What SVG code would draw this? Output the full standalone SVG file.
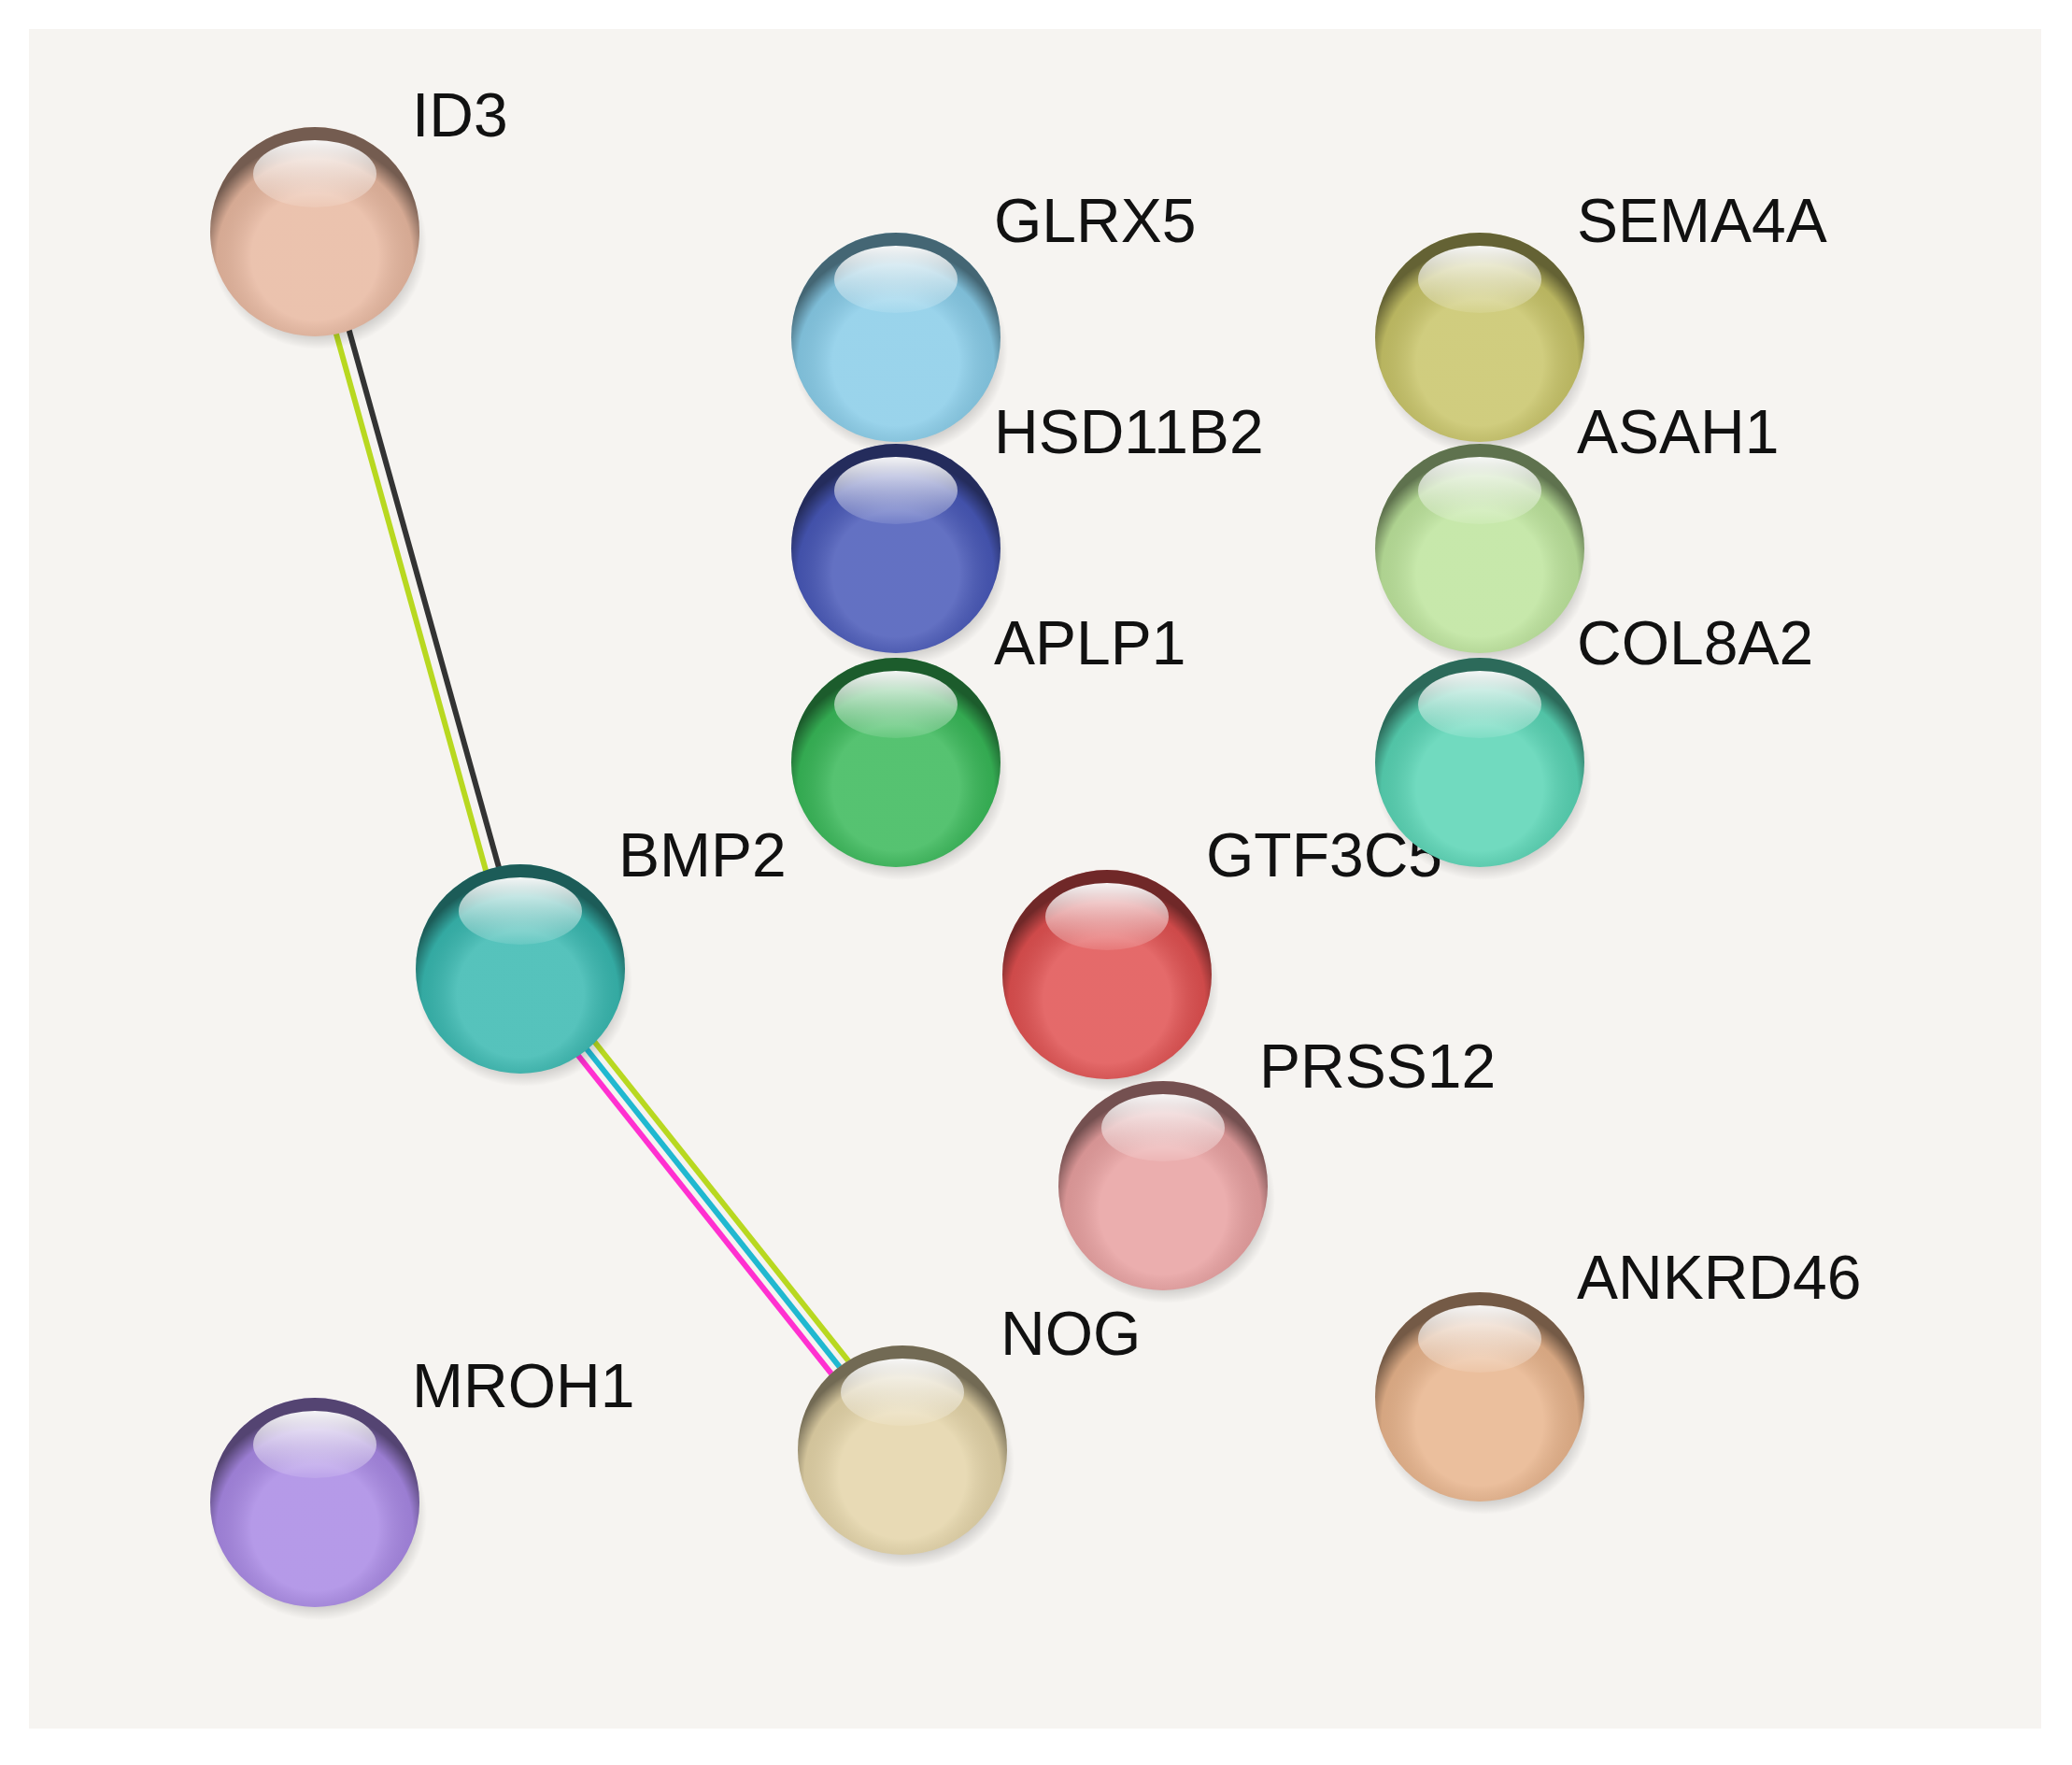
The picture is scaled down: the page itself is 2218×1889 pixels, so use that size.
<svg xmlns="http://www.w3.org/2000/svg" width="2218" height="1889" viewBox="0 0 2218 1889">
<style>
text{font-family:"Liberation Sans",Arial,sans-serif;font-size:66px;fill:#111}
.shade{fill:url(#sh)}
.hl{fill:url(#hl)}
.shadow{fill:url(#sd)}
</style>
<defs>
<radialGradient id="sh" cx="0.5" cy="0.62" r="0.55">
<stop offset="0.55" stop-color="#fff" stop-opacity="0.15"/>
<stop offset="0.85" stop-color="#000" stop-opacity="0.08"/>
<stop offset="1" stop-color="#000" stop-opacity="0.5"/>
</radialGradient>
<linearGradient id="hl" x1="0" y1="0" x2="0" y2="1">
<stop offset="0" stop-color="#fff" stop-opacity="0.95"/>
<stop offset="1" stop-color="#fff" stop-opacity="0.1"/>
</linearGradient>
<radialGradient id="sd" cx="0.5" cy="0.5" r="0.5">
<stop offset="0.6" stop-color="#000" stop-opacity="0.45"/>
<stop offset="1" stop-color="#000" stop-opacity="0"/>
</radialGradient>
</defs>
<rect x="31" y="31" width="2154" height="1819" fill="#f6f4f1"/>
<g id="edges" stroke-width="6" fill="none">
<line x1="330" y1="250" x2="550" y2="1039" stroke="#b8d820"/>
<line x1="344" y1="247" x2="564" y2="1036" stroke="#333"/>
<line x1="550" y1="1043" x2="959" y2="1557" stroke="#ff30d0"/>
<line x1="559" y1="1036" x2="968" y2="1550" stroke="#20b8d0"/>
<line x1="568" y1="1029" x2="977" y2="1543" stroke="#b8d820"/>
</g>
<g id="ID3" transform="translate(337,248)"><ellipse class="shadow" cx="4" cy="14" rx="116" ry="112"/><circle r="112" fill="#e8b8a0"/><circle r="112" class="shade"/><ellipse cy="-62" rx="66" ry="36" class="hl"/><text x="104" y="-102">ID3</text></g>
<g id="GLRX5" transform="translate(959,361)"><ellipse class="shadow" cx="4" cy="14" rx="116" ry="112"/><circle r="112" fill="#88cce8"/><circle r="112" class="shade"/><ellipse cy="-62" rx="66" ry="36" class="hl"/><text x="105" y="-102">GLRX5</text></g>
<g id="HSD11B2" transform="translate(959,587)"><ellipse class="shadow" cx="4" cy="14" rx="116" ry="112"/><circle r="112" fill="#4858b8"/><circle r="112" class="shade"/><ellipse cy="-62" rx="66" ry="36" class="hl"/><text x="105" y="-102">HSD11B2</text></g>
<g id="APLP1" transform="translate(959,816)"><ellipse class="shadow" cx="4" cy="14" rx="116" ry="112"/><circle r="112" fill="#38b858"/><circle r="112" class="shade"/><ellipse cy="-62" rx="66" ry="36" class="hl"/><text x="105" y="-105">APLP1</text></g>
<g id="SEMA4A" transform="translate(1584,361)"><ellipse class="shadow" cx="4" cy="14" rx="116" ry="112"/><circle r="112" fill="#c8c468"/><circle r="112" class="shade"/><ellipse cy="-62" rx="66" ry="36" class="hl"/><text x="104" y="-102">SEMA4A</text></g>
<g id="ASAH1" transform="translate(1584,587)"><ellipse class="shadow" cx="4" cy="14" rx="116" ry="112"/><circle r="112" fill="#bde49c"/><circle r="112" class="shade"/><ellipse cy="-62" rx="66" ry="36" class="hl"/><text x="104" y="-102">ASAH1</text></g>
<g id="BMP2" transform="translate(557,1037)"><ellipse class="shadow" cx="4" cy="14" rx="116" ry="112"/><circle r="112" fill="#38b8b0"/><circle r="112" class="shade"/><ellipse cy="-62" rx="66" ry="36" class="hl"/><text x="105" y="-99">BMP2</text></g>
<g id="GTF3C5" transform="translate(1185,1043)"><ellipse class="shadow" cx="4" cy="14" rx="116" ry="112"/><circle r="112" fill="#e05050"/><circle r="112" class="shade"/><ellipse cy="-62" rx="66" ry="36" class="hl"/><text x="106" y="-105">GTF3C5</text></g>
<g id="COL8A2" transform="translate(1584,816)"><ellipse class="shadow" cx="4" cy="14" rx="116" ry="112"/><circle r="112" fill="#58d4b4"/><circle r="112" class="shade"/><ellipse cy="-62" rx="66" ry="36" class="hl"/><text x="104" y="-105">COL8A2</text></g>
<g id="PRSS12" transform="translate(1245,1269)"><ellipse class="shadow" cx="4" cy="14" rx="116" ry="112"/><circle r="112" fill="#e8a0a0"/><circle r="112" class="shade"/><ellipse cy="-62" rx="66" ry="36" class="hl"/><text x="103" y="-105">PRSS12</text></g>
<g id="ANKRD46" transform="translate(1584,1495)"><ellipse class="shadow" cx="4" cy="14" rx="116" ry="112"/><circle r="112" fill="#e8b48c"/><circle r="112" class="shade"/><ellipse cy="-62" rx="66" ry="36" class="hl"/><text x="104" y="-105">ANKRD46</text></g>
<g id="NOG" transform="translate(966,1552)"><ellipse class="shadow" cx="4" cy="14" rx="116" ry="112"/><circle r="112" fill="#e4d4a8"/><circle r="112" class="shade"/><ellipse cy="-62" rx="66" ry="36" class="hl"/><text x="105" y="-102">NOG</text></g>
<g id="MROH1" transform="translate(337,1608)"><ellipse class="shadow" cx="4" cy="14" rx="116" ry="112"/><circle r="112" fill="#a888e4"/><circle r="112" class="shade"/><ellipse cy="-62" rx="66" ry="36" class="hl"/><text x="104" y="-102">MROH1</text></g>
</svg>
